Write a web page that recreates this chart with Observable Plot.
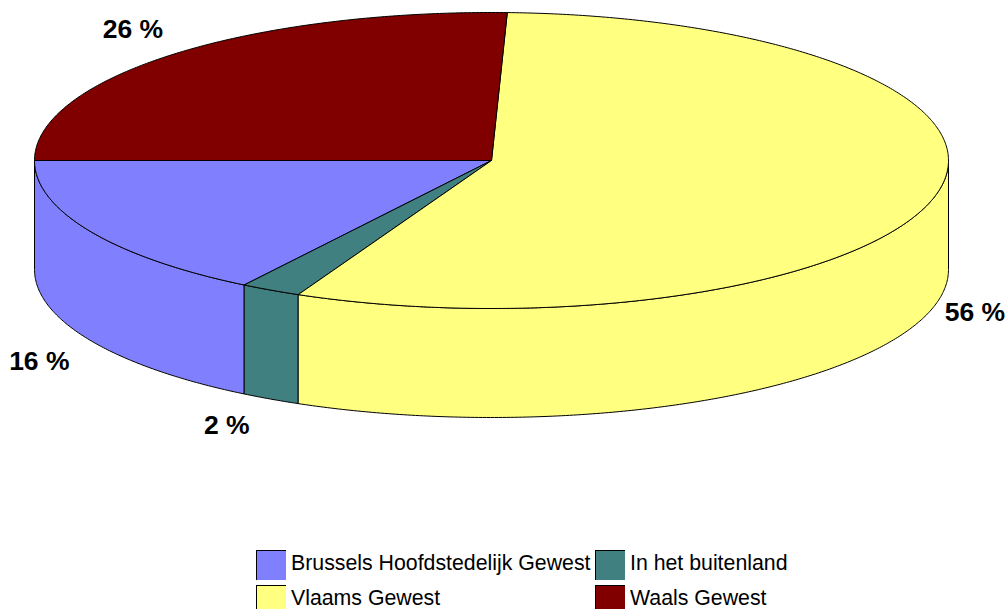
<!DOCTYPE html>
<html>
<head>
<meta charset="utf-8">
<script src="https://cdn.jsdelivr.net/npm/d3@7"></script>
<script src="https://cdn.jsdelivr.net/npm/@observablehq/plot@0.6"></script>
<style>
  html, body { margin: 0; padding: 0; background: #fff; width: 1008px; height: 609px; overflow: hidden; }
  #chart svg { display: block; }
  #legend {
    display: grid; grid-template-columns: 339px 340px; grid-auto-rows: 35px;
    margin: 5px 0 0 256px;
    font: 21.3px "Liberation Sans", Arial, sans-serif; color: #000;
  }
  .item { display: flex; align-items: flex-start; height: 35px; }
  .swatch { width: 30px; height: 30px; box-sizing: border-box; border-top: 1px solid #000; border-left: 1px solid #000; margin-right: 5px; flex: none; }
  .name { line-height: 26px; white-space: nowrap; }
</style>
</head>
<body>
<div id="chart"></div>
<div id="legend"></div>
<script>
// Data
const regions = ["Brussels Hoofdstedelijk Gewest", "In het buitenland", "Vlaams Gewest", "Waals Gewest"];
const shares = [15.9, 2.15, 56.4, 25.55];
const labels = ["16 %", "2 %", "56 %", "26 %"];
const colors = ["#8080ff", "#408080", "#ffff80", "#800000"];

// Layout of the tilted disc
const W = 1008, H = 545;
const cx = 491, cy = 160, rx = 457, ry = 148, depth = 109;
const startAngle = 270;      // degrees clockwise from the top
const labelShift = [[-51, 21], [-44, 26], [39, 8], [-41, -25]];

const rim = (deg, drop = 0) => {
  const a = deg * Math.PI / 180;
  return [cx + rx * Math.sin(a), cy - ry * Math.cos(a) + drop];
};
const arc = (from, to, drop = 0) => {
  const n = Math.max(2, Math.ceil(Math.abs(to - from) * 2));
  return d3.range(n + 1).map(i => rim(from + (to - from) * i / n, drop));
};

let cum = 0;
const slices = regions.map((region, i) => {
  const end = startAngle - cum * 3.6;
  cum += shares[i];
  return { region, label: labels[i], i, from: end, to: startAngle - cum * 3.6 };
});

const topRows = [], sideRows = [], labelRows = [];
for (const s of slices) {
  for (const [x, y] of [[cx, cy], ...arc(s.from, s.to), [cx, cy]]) topRows.push({ key: s.region, region: s.region, x, y });
  // Only the part of the wall facing the viewer (90..270 degrees) is visible
  const lo = Math.max(Math.min(s.from, s.to), 90), hi = Math.min(Math.max(s.from, s.to), 270);
  if (hi > lo) {
    const pts = [...arc(lo, hi), ...arc(hi, lo, depth)];
    pts.push(pts[0]);
    for (const [x, y] of pts) sideRows.push({ key: s.region, region: s.region, x, y });
  }
  const mid = (s.from + s.to) / 2;
  const isFront = mid > 90 && mid < 270;
  const [mx, my] = rim(mid, isFront ? depth : 0);
  labelRows.push({ label: s.label, x: mx + labelShift[s.i][0], y: my + labelShift[s.i][1] });
}

const piece = rows => Plot.line(rows, {
  x: "x", y: "y", z: "key", fill: "region",
  stroke: "#000", strokeWidth: 1, strokeLinejoin: "round"
});

const chart = Plot.plot({
  width: W, height: H,
  marginTop: 0, marginRight: 0, marginBottom: 0, marginLeft: 0,
  x: { domain: [0, W], range: [0, W], axis: null },
  y: { domain: [0, H], range: [0, H], axis: null },
  color: { domain: regions, range: colors },
  style: { background: "#fff", overflow: "visible" },
  marks: [
    piece(sideRows),
    piece(topRows),
    Plot.text(labelRows, {
      x: "x", y: "y", text: "label",
      fontFamily: "Liberation Sans, Arial, sans-serif", fontSize: 26.5, fontWeight: "bold",
      fill: "#000", textAnchor: "middle"
    })
  ]
});
document.getElementById("chart").append(chart);

const legend = document.getElementById("legend");
regions.forEach((r, i) => {
  const item = document.createElement("div");
  item.className = "item";
  const sw = document.createElement("div");
  sw.className = "swatch";
  sw.style.background = colors[i];
  const nm = document.createElement("div");
  nm.className = "name";
  nm.textContent = r;
  item.append(sw, nm);
  legend.append(item);
});
</script>
</body>
</html>
